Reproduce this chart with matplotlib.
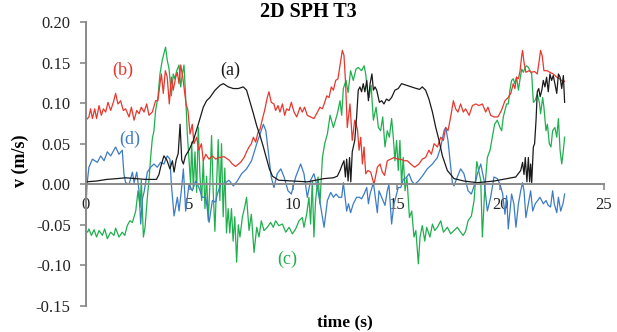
import matplotlib
matplotlib.use("Agg")
import matplotlib.pyplot as plt

# Velocity time series
# (a) black
t_a = [0.0, 0.5, 1.0, 1.5, 1.9, 2.4, 2.9, 3.4, 3.52, 3.6,
       3.76, 3.9, 4.05, 4.17, 4.25, 4.35, 4.45, 4.54, 4.62, 4.70,
       4.80, 4.97, 5.18, 5.42, 5.66, 5.82, 5.98, 6.23, 6.47, 6.63,
       6.87, 7.11, 7.35, 7.59, 7.75, 7.92, 8.08, 8.24, 8.40, 8.56,
       8.70, 8.85, 9.00, 9.30, 10.04, 10.68, 11.48, 11.94, 12.13, 12.26,
       12.38, 12.45, 12.52, 12.58, 12.65, 12.72, 12.78, 12.85, 12.90, 12.97,
       13.06, 13.14, 13.22, 13.30, 13.38, 13.46, 13.55, 13.63, 13.71, 13.80,
       13.87, 13.95, 14.03, 14.16, 14.27, 14.38, 14.50, 14.62, 14.75, 14.91,
       15.07, 15.23, 15.47, 15.72, 15.95, 16.10, 16.23, 16.39, 16.55, 16.72,
       16.88, 17.04, 17.20, 17.44, 17.76, 18.24, 18.89, 19.69, 20.33, 20.74,
       20.98, 21.07, 21.14, 21.20, 21.28, 21.35, 21.41, 21.46, 21.51, 21.59,
       21.65, 21.72, 21.78, 21.85, 21.92, 22.00, 22.07, 22.15, 22.23, 22.31,
       22.39, 22.47, 22.55, 22.63, 22.72, 22.80, 22.88, 22.96, 23.04, 23.10]
v_a = [0.003, 0.004, 0.006, 0.007, 0.008, 0.007, 0.006, 0.006, 0.012, 0.021,
       0.035, 0.030, 0.019, 0.029, 0.015, 0.030, 0.038, 0.074, 0.030, 0.025,
       0.035, 0.042, 0.054, 0.074, 0.095, 0.103, 0.107, 0.116, 0.122, 0.124,
       0.120, 0.118, 0.118, 0.120, 0.116, 0.101, 0.087, 0.072, 0.060, 0.046,
       0.033, 0.019, 0.010, 0.005, 0.004, 0.003, 0.007, 0.008, 0.010, 0.017,
       0.025, 0.029, 0.009, 0.031, 0.004, 0.033, 0.003, 0.040, 0.046, 0.054,
       0.083, 0.116, 0.120, 0.114, 0.124, 0.114, 0.128, 0.103, 0.124, 0.136,
       0.116, 0.120, 0.116, 0.101, 0.103, 0.099, 0.105, 0.103, 0.107, 0.116,
       0.118, 0.124, 0.122, 0.120, 0.118, 0.117, 0.120, 0.116, 0.105, 0.089,
       0.070, 0.054, 0.035, 0.017, 0.007, 0.004, 0.002, 0.004, 0.007, 0.009,
       0.017, 0.027, 0.012, 0.033, 0.003, 0.033, 0.003, 0.025, 0.002, 0.046,
       0.050, 0.079, 0.114, 0.118, 0.108, 0.116, 0.128, 0.120, 0.132, 0.114,
       0.136, 0.128, 0.134, 0.124, 0.112, 0.136, 0.132, 0.118, 0.134, 0.101]

# (b) red
t_b = [0.0, 0.14, 0.22, 0.31, 0.42, 0.51, 0.63, 0.74, 0.84, 0.95,
       1.06, 1.19, 1.32, 1.43, 1.54, 1.67, 1.80, 1.91, 2.08, 2.19,
       2.32, 2.45, 2.56, 2.67, 2.80, 2.93, 3.04, 3.20, 3.36, 3.47,
       3.57, 3.64, 3.73, 3.83, 3.92, 4.02, 4.12, 4.21, 4.33, 4.41,
       4.49, 4.57, 4.67, 4.73, 4.83, 4.92, 5.02, 5.13, 5.21, 5.34,
       5.45, 5.57, 5.66, 5.78, 5.94, 6.10, 6.26, 6.42, 6.66, 6.90,
       7.06, 7.22, 7.46, 7.63, 7.75, 7.87, 7.98, 8.08, 8.19, 8.30,
       8.40, 8.51, 8.62, 8.75, 8.83, 8.94, 9.07, 9.15, 9.27, 9.36,
       9.48, 9.59, 9.68, 9.80, 9.91, 10.04, 10.17, 10.33, 10.44, 10.55,
       10.68, 10.84, 11.00, 11.17, 11.29, 11.41, 11.52, 11.62, 11.73, 11.84,
       11.94, 12.05, 12.16, 12.26, 12.37, 12.45, 12.53, 12.61, 12.74, 12.85,
       12.97, 13.10, 13.18, 13.26, 13.34, 13.42, 13.50, 13.61, 13.74, 13.90,
       14.06, 14.19, 14.30, 14.41, 14.54, 14.70, 14.87, 15.03, 15.19, 15.35,
       15.51, 15.67, 15.86, 16.07, 16.23, 16.39, 16.55, 16.67, 16.80, 16.96,
       17.12, 17.25, 17.36, 17.47, 17.60, 17.73, 17.84, 17.95, 18.08, 18.21,
       18.32, 18.49, 18.65, 18.81, 18.97, 19.13, 19.29, 19.40, 19.53, 19.69,
       19.88, 20.05, 20.22, 20.38, 20.50, 20.62, 20.70, 20.78, 20.87, 20.95,
       21.03, 21.07, 21.14, 21.23, 21.38, 21.51, 21.65, 21.78, 21.86, 21.94,
       22.02, 22.10, 22.25, 22.39, 22.55, 22.72, 22.86, 23.00, 23.10]
v_b = [0.079, 0.083, 0.093, 0.081, 0.093, 0.081, 0.097, 0.085, 0.093, 0.089,
       0.101, 0.091, 0.101, 0.112, 0.099, 0.103, 0.091, 0.093, 0.083, 0.095,
       0.079, 0.091, 0.087, 0.095, 0.089, 0.099, 0.085, 0.089, 0.103, 0.103,
       0.124, 0.136, 0.112, 0.140, 0.132, 0.099, 0.132, 0.116, 0.132, 0.138,
       0.124, 0.147, 0.132, 0.120, 0.099, 0.091, 0.062, 0.074, 0.050, 0.058,
       0.042, 0.050, 0.029, 0.037, 0.031, 0.035, 0.031, 0.033, 0.034, 0.030,
       0.025, 0.022, 0.027, 0.033, 0.040, 0.046, 0.050, 0.058, 0.052, 0.064,
       0.068, 0.080, 0.091, 0.107, 0.114, 0.101, 0.099, 0.091, 0.097, 0.089,
       0.099, 0.085, 0.093, 0.091, 0.101, 0.089, 0.083, 0.095, 0.089, 0.095,
       0.085, 0.083, 0.081, 0.089, 0.095, 0.093, 0.101, 0.109, 0.107, 0.120,
       0.116, 0.128, 0.130, 0.147, 0.165, 0.159, 0.124, 0.070, 0.099, 0.054,
       0.079, 0.068, 0.042, 0.058, 0.025, 0.046, 0.013, 0.017, 0.015, 0.000,
       0.021, 0.025, 0.015, 0.011, 0.029, 0.031, 0.033, 0.031, 0.031, 0.029,
       0.029, 0.025, 0.021, 0.025, 0.031, 0.033, 0.042, 0.037, 0.050, 0.046,
       0.058, 0.054, 0.070, 0.066, 0.083, 0.103, 0.093, 0.089, 0.099, 0.089,
       0.093, 0.085, 0.097, 0.099, 0.097, 0.099, 0.089, 0.095, 0.085, 0.083,
       0.083, 0.091, 0.103, 0.107, 0.112, 0.124, 0.118, 0.132, 0.130, 0.140,
       0.159, 0.165, 0.150, 0.138, 0.140, 0.138, 0.139, 0.136, 0.150, 0.165,
       0.158, 0.140, 0.140, 0.138, 0.136, 0.132, 0.130, 0.127, 0.127]

# (c) green
t_c = [0.0, 0.08, 0.14, 0.26, 0.39, 0.51, 0.63, 0.79, 0.90, 1.03,
       1.19, 1.35, 1.43, 1.59, 1.75, 1.87, 1.99, 2.12, 2.24, 2.40,
       2.51, 2.61, 2.67, 2.77, 2.85, 2.96, 3.04, 3.12, 3.20, 3.28,
       3.36, 3.47, 3.57, 3.68, 3.76, 3.84, 3.92, 4.01, 4.12, 4.21,
       4.28, 4.38, 4.49, 4.57, 4.65, 4.73, 4.81, 4.89, 4.97, 5.05,
       5.10, 5.18, 5.26, 5.34, 5.42, 5.50, 5.58, 5.66, 5.74, 5.82,
       5.90, 5.98, 6.06, 6.14, 6.22, 6.30, 6.38, 6.46, 6.54, 6.62,
       6.70, 6.78, 6.86, 6.94, 7.02, 7.10, 7.18, 7.27, 7.35, 7.43,
       7.55, 7.66, 7.75, 7.87, 7.98, 8.11, 8.24, 8.35, 8.46, 8.59,
       8.75, 8.91, 9.04, 9.15, 9.31, 9.48, 9.64, 9.80, 9.96, 10.12,
       10.28, 10.44, 10.52, 10.65, 10.76, 10.84, 10.92, 11.00, 11.08, 11.20,
       11.29, 11.41, 11.52, 11.65, 11.78, 11.94, 12.13, 12.26, 12.34, 12.42,
       12.55, 12.65, 12.77, 12.90, 13.03, 13.14, 13.30, 13.42, 13.50, 13.58,
       13.66, 13.76, 13.87, 14.00, 14.11, 14.22, 14.32, 14.43, 14.54, 14.64,
       14.75, 14.83, 14.91, 14.99, 15.07, 15.15, 15.23, 15.31, 15.40, 15.49,
       15.61, 15.72, 15.83, 15.92, 16.04, 16.12, 16.23, 16.35, 16.44, 16.60,
       16.72, 16.83, 16.96, 17.12, 17.25, 17.44, 17.60, 17.76, 17.92, 18.08,
       18.20, 18.32, 18.44, 18.60, 18.73, 18.86, 18.97, 19.05, 19.13, 19.24,
       19.37, 19.50, 19.61, 19.72, 19.85, 19.98, 20.06, 20.14, 20.22, 20.30,
       20.38, 20.46, 20.54, 20.62, 20.70, 20.78, 20.87, 20.95, 21.03, 21.11,
       21.19, 21.27, 21.35, 21.43, 21.51, 21.59, 21.67, 21.78, 21.88, 21.94,
       22.04, 22.10, 22.20, 22.27, 22.36, 22.44, 22.52, 22.63, 22.72, 22.80,
       22.88, 22.96, 23.04, 23.10]
v_c = [-0.057, -0.059, -0.055, -0.063, -0.056, -0.065, -0.057, -0.063, -0.055, -0.067,
       -0.059, -0.063, -0.054, -0.065, -0.059, -0.063, -0.051, -0.045, -0.047, -0.033,
       -0.008, -0.028, 0.005, -0.065, -0.053, -0.016, 0.005, 0.033, 0.056, 0.066,
       0.091, 0.107, 0.136, 0.153, 0.161, 0.169, 0.153, 0.142, 0.109, 0.136,
       0.130, 0.140, 0.147, 0.120, 0.136, 0.147, 0.107, 0.062, 0.030, 0.000,
       0.052, -0.005, 0.040, -0.010, 0.070, 0.010, -0.020, 0.030, -0.030, 0.010,
       -0.045, 0.000, 0.060, -0.010, -0.058, 0.000, 0.055, -0.020, 0.050, -0.040,
       0.020, -0.060, -0.030, -0.060, -0.030, -0.070, -0.040, -0.096, -0.050, -0.065,
       -0.040, -0.028, -0.016, -0.057, -0.037, -0.084, -0.053, -0.065, -0.045, -0.057,
       -0.053, -0.047, -0.053, -0.045, -0.051, -0.049, -0.059, -0.053, -0.061, -0.055,
       -0.045, -0.041, -0.053, -0.037, -0.016, -0.049, 0.004, -0.065, -0.020, 0.009,
       -0.024, 0.033, 0.050, 0.062, 0.085, 0.070, 0.087, 0.103, 0.085, 0.118,
       0.128, 0.113, 0.140, 0.128, 0.142, 0.144, 0.140, 0.146, 0.136, 0.116,
       0.107, 0.122, 0.079, 0.095, 0.070, 0.066, 0.083, 0.046, 0.066, 0.058,
       0.081, 0.058, 0.029, 0.054, 0.017, 0.054, 0.000, 0.033, -0.008, 0.008,
       -0.041, -0.033, -0.065, -0.057, -0.098, -0.065, -0.051, -0.070, -0.053, -0.065,
       -0.049, -0.057, -0.053, -0.045, -0.059, -0.053, -0.061, -0.057, -0.053, -0.059,
       -0.063, -0.058, -0.045, -0.039, -0.020, 0.028, 0.015, 0.005, -0.065, -0.008,
       0.033, 0.042, 0.058, 0.074, 0.079, 0.070, 0.066, 0.083, 0.091, 0.099,
       0.099, 0.116, 0.128, 0.130, 0.124, 0.132, 0.116, 0.130, 0.142, 0.138,
       0.144, 0.146, 0.144, 0.140, 0.136, 0.101, 0.103, 0.111, 0.101, 0.087,
       0.107, 0.095, 0.066, 0.074, 0.050, 0.046, 0.066, 0.070, 0.058, 0.081,
       0.042, 0.025, 0.042, 0.058]

# (d) blue
t_d = [0.0, 0.05, 0.14, 0.31, 0.55, 0.71, 0.87, 1.03, 1.19, 1.43,
       1.59, 1.75, 1.83, 1.91, 2.08, 2.24, 2.32, 2.45, 2.56, 2.64,
       2.72, 2.80, 2.96, 3.12, 3.28, 3.44, 3.60, 3.76, 3.92, 4.05,
       4.12, 4.25, 4.41, 4.49, 4.60, 4.70, 4.81, 4.97, 5.13, 5.29,
       5.45, 5.61, 5.78, 5.94, 6.10, 6.26, 6.34, 6.50, 6.74, 6.90,
       7.11, 7.30, 7.51, 7.75, 7.99, 8.24, 8.40, 8.56, 8.68, 8.80,
       8.94, 9.07, 9.23, 9.40, 9.56, 9.75, 9.91, 10.12, 10.36, 10.52,
       10.68, 10.84, 11.00, 11.17, 11.33, 11.49, 11.65, 11.81, 11.94, 12.07,
       12.20, 12.34, 12.42, 12.50, 12.58, 12.67, 12.77, 12.90, 13.06, 13.20,
       13.30, 13.42, 13.55, 13.63, 13.71, 13.87, 13.98, 14.06, 14.14, 14.30,
       14.43, 14.54, 14.62, 14.75, 14.86, 14.95, 15.07, 15.19, 15.31, 15.45,
       15.59, 15.72, 15.86, 16.04, 16.23, 16.47, 16.72, 16.96, 17.12, 17.28,
       17.36, 17.47, 17.57, 17.68, 17.76, 17.92, 18.08, 18.24, 18.44, 18.60,
       18.81, 18.89, 19.05, 19.21, 19.37, 19.53, 19.69, 19.85, 19.98, 20.11,
       20.22, 20.30, 20.38, 20.46, 20.54, 20.65, 20.75, 20.87, 20.98, 21.07,
       21.14, 21.23, 21.35, 21.46, 21.56, 21.68, 21.80, 21.91, 22.07, 22.20,
       22.31, 22.42, 22.52, 22.60, 22.72, 22.80, 22.91, 23.02, 23.10]
v_d = [-0.028, 0.000, 0.021, 0.031, 0.027, 0.035, 0.029, 0.040, 0.035, 0.046,
       0.037, 0.042, 0.013, 0.002, 0.000, 0.015, 0.002, 0.015, -0.008, -0.049,
       -0.018, -0.010, 0.015, 0.021, 0.025, 0.021, 0.027, 0.025, 0.035, 0.031,
       0.000, -0.039, -0.016, -0.033, -0.008, 0.019, -0.033, 0.000, -0.008, 0.004,
       -0.004, -0.016, -0.016, -0.047, -0.020, -0.022, -0.012, 0.000, 0.002, 0.005,
       -0.002, 0.004, 0.013, 0.019, 0.029, 0.050, 0.062, 0.074, 0.066, 0.040,
       0.009, -0.004, 0.013, 0.019, 0.009, -0.008, -0.012, 0.009, 0.025, 0.013,
       -0.016, 0.005, 0.013, -0.004, -0.028, -0.053, -0.020, -0.010, -0.016, -0.012,
       -0.016, -0.016, 0.002, -0.016, -0.033, -0.024, -0.035, -0.024, -0.016, -0.016,
       -0.018, -0.012, -0.004, -0.024, -0.012, 0.002, -0.020, -0.035, -0.008, -0.018,
       -0.026, -0.008, 0.000, -0.049, -0.024, -0.016, -0.004, -0.004, 0.006, 0.008,
       0.013, 0.004, 0.000, 0.004, 0.010, 0.019, 0.025, 0.033, 0.046, 0.066,
       0.070, 0.054, 0.029, 0.002, -0.002, 0.009, 0.019, 0.013, -0.008, -0.012,
       0.004, 0.013, 0.025, 0.005, -0.033, -0.016, 0.009, 0.007, 0.000, -0.012,
       -0.037, -0.014, -0.055, -0.033, -0.012, -0.024, -0.053, -0.024, -0.008, 0.002,
       -0.008, -0.041, -0.024, -0.008, -0.033, -0.024, -0.020, -0.016, -0.024, -0.020,
       -0.026, -0.028, -0.008, -0.024, -0.035, -0.016, -0.033, -0.024, -0.012]

series_labels = ["(a)", "(b)", "(c)", "(d)"]
label_t = [6.95, 1.79, 9.69, 2.09]
label_v = [0.140, 0.140, -0.092, 0.056]
colors = ["#1a1a1a", "#e8372c", "#1faf4e", "#3c7cc4"]

y_ticks = [-0.15, -0.10, -0.05, 0.00, 0.05, 0.10, 0.15, 0.20]
x_ticks = [0, 5, 10, 15, 20, 25]

plt.rcParams['font.family'] = ['Liberation Serif', 'DejaVu Serif']
plt.rcParams['axes.unicode_minus'] = False

fig = plt.figure(figsize=(6.17, 3.32), dpi=100)
ax = fig.add_axes([86 / 617, 1 - 306 / 332, 518 / 617, 284 / 332])

# draw order: green, blue, red, black on top
ax.plot(t_c, v_c, color=colors[2], lw=0.9)
ax.plot(t_d, v_d, color=colors[3], lw=0.9)
ax.plot(t_b, v_b, color=colors[1], lw=0.9)
ax.plot(t_a, v_a, color=colors[0], lw=0.9)

for lab, x, y, c in zip(series_labels, label_t, label_v, colors):
    ax.text(x, y, lab, color=c, fontsize=13, ha='center', va='center')

ax.set_xlim(0, 25)
ax.set_ylim(-0.15, 0.20)
ax.set_xticks(x_ticks)
ax.set_yticks(y_ticks)
ax.set_yticklabels([f"{v:.2f}" for v in y_ticks])
ax.set_xticklabels([str(v) for v in x_ticks])

grey = "#8a8a8a"
for s in ['top', 'right']:
    ax.spines[s].set_visible(False)
ax.spines['left'].set_color(grey)
ax.spines['left'].set_linewidth(1.4)
ax.spines['bottom'].set_position(('data', 0))
ax.spines['bottom'].set_color(grey)
ax.spines['bottom'].set_linewidth(1.4)
ax.tick_params(axis='y', direction='out', length=4, width=1.2, color=grey,
               labelsize=12, labelcolor='#222222', pad=7)
ax.tick_params(axis='x', direction='out', length=4, width=1.2, color=grey,
               labelsize=12, labelcolor='#222222', pad=5)

fig.text(0.5, 1 - 12 / 332, "2D SPH T3", ha='center', va='center',
         fontsize=14.5, fontweight='bold')
fig.text(20 / 617, 1 - 161 / 332, "v (m/s)", ha='center', va='center',
         rotation=90, fontsize=13, fontweight='bold')
fig.text(345 / 617, 1 - 322 / 332, "time (s)", ha='center', va='center',
         fontsize=12.5, fontweight='bold')

fig.savefig("out.png", dpi=100)
